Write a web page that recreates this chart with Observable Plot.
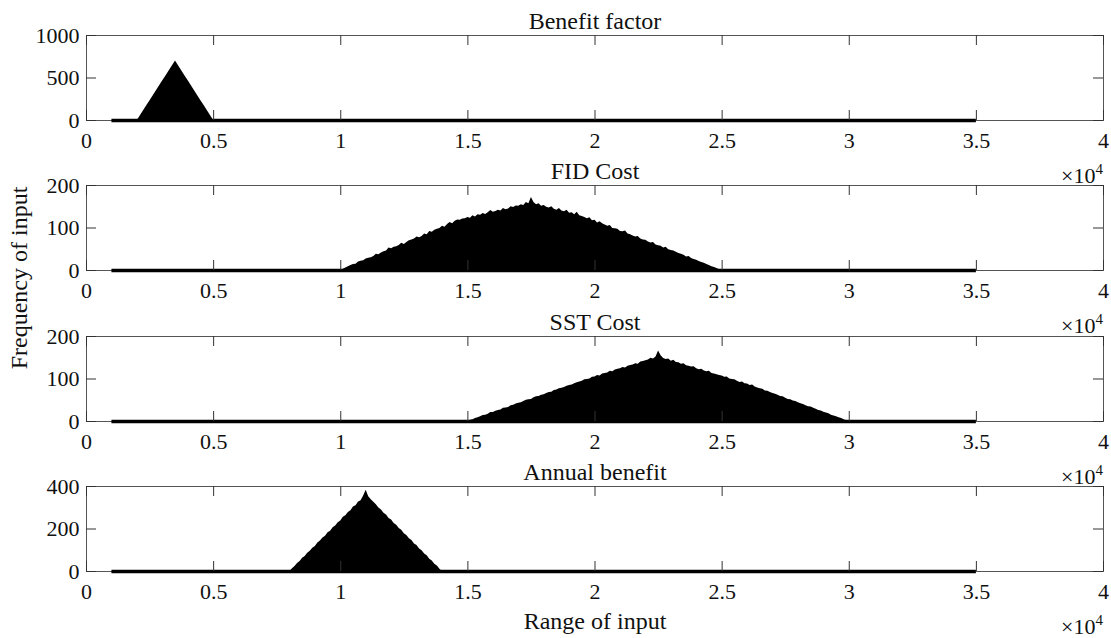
<!DOCTYPE html>
<html>
<head>
<meta charset="utf-8">
<script src="https://cdn.jsdelivr.net/npm/d3@7"></script>
<script src="https://cdn.jsdelivr.net/npm/@observablehq/plot@0.6"></script>
<style>
  html, body { margin: 0; padding: 0; background: #fff; }
  #chart { position: relative; width: 1111px; height: 638px; overflow: hidden;
           font-family: "Liberation Serif", "Times New Roman", serif; }
  #chart svg { position: absolute; left: 0; }
</style>
</head>
<body>
<div id="chart"></div>
<script>
// Panel titles and shared axis text
const titles = ["Benefit factor", "FID Cost", "SST Cost", "Annual benefit"];
const yLabel = "Frequency of input";
const xLabel = "Range of input";

// Tick values
const xTicks = [0, 5000, 10000, 15000, 20000, 25000, 30000, 35000, 40000];
const xDomain = [0, 40000];
const yTicksBenefit = [0, 500, 1000];
const yTicksFid = [0, 100, 200];
const yTicksSst = [0, 100, 200];
const yTicksAnnual = [0, 200, 400];

// Every histogram covers this input range; bins outside the peak hold zero counts
const binRange = [1000, 35000];

// Histogram counts (first bin, bin step, counts)
const benefitStart = 2000, benefitStep = 100;
const benefitCounts = [0, 47, 93, 140, 187, 233, 280, 327, 373, 420, 467, 513, 560, 607, 653, 700,
  653, 607, 560, 513, 467, 420, 373, 327, 280, 233, 187, 140, 93, 47, 0];

const fidStart = 10000, fidStep = 100;
const fidCounts = [
  0, 3, 6, 9, 12, 14, 15, 20, 22, 23,
  27, 29, 30, 33, 38, 37, 41, 44, 46, 53,
  51, 55, 56, 59, 64, 61, 66, 70, 72, 74,
  79, 77, 80, 86, 84, 92, 90, 95, 97, 99,
  104, 102, 108, 113, 110, 116, 119, 118, 121, 122,
  125, 123, 129, 126, 131, 130, 134, 132, 136, 141,
  137, 139, 142, 140, 146, 143, 145, 150, 148, 152,
  151, 155, 153, 160, 157, 172, 160, 155, 157, 151,
  153, 149, 147, 150, 144, 142, 146, 140, 138, 142,
  135, 136, 131, 137, 129, 127, 125, 122, 124, 117,
  118, 112, 115, 110, 107, 104, 106, 99, 98, 97,
  92, 91, 93, 86, 84, 81, 79, 80, 74, 72,
  71, 67, 65, 66, 60, 58, 57, 53, 55, 49,
  47, 46, 43, 40, 38, 36, 32, 33, 28, 26,
  24, 21, 19, 17, 14, 12, 9, 7, 5, 2,
  0];

const sstStart = 15000, sstStep = 100;
const sstCounts = [
  0, 3, 4, 7, 9, 11, 14, 15, 17, 21,
  21, 24, 26, 27, 31, 32, 33, 37, 38, 41,
  43, 44, 47, 50, 51, 52, 56, 58, 59, 62,
  63, 66, 68, 69, 73, 74, 77, 78, 80, 83,
  85, 86, 89, 91, 93, 95, 98, 99, 100, 104,
  105, 108, 107, 112, 113, 114, 118, 117, 121, 123,
  124, 127, 126, 130, 132, 133, 136, 135, 140, 141,
  143, 145, 149, 147, 152, 166, 155, 148, 146, 147,
  142, 144, 139, 138, 135, 136, 131, 130, 128, 129,
  124, 122, 123, 119, 117, 118, 113, 112, 110, 108,
  107, 104, 105, 100, 99, 98, 95, 92, 93, 89,
  88, 85, 86, 81, 79, 77, 76, 72, 71, 68,
  66, 64, 62, 59, 58, 55, 52, 51, 48, 47,
  44, 42, 40, 37, 35, 34, 31, 29, 26, 25,
  22, 20, 18, 15, 13, 11, 9, 7, 4, 2,
  0];

const annualStart = 8000, annualStep = 100;
const annualCounts = [
  0, 13, 23, 38, 47, 62, 71, 86, 95, 110,
  118, 134, 143, 158, 166, 182, 190, 206, 214, 230,
  238, 255, 262, 278, 286, 303, 310, 327, 333, 355,
  382,
  352, 338, 326, 314, 299, 290, 274, 266, 250, 242,
  226, 218, 202, 194, 178, 170, 154, 146, 130, 122,
  106, 98, 82, 74, 58, 50, 34, 26, 11, 0];

const toPoints = (start, step, counts) => counts.map((c, i) => ({x: start + i * step, y: c}));

const panels = [
  {title: titles[0], points: toPoints(benefitStart, benefitStep, benefitCounts), yTicks: yTicksBenefit},
  {title: titles[1], points: toPoints(fidStart, fidStep, fidCounts), yTicks: yTicksFid},
  {title: titles[2], points: toPoints(sstStart, sstStep, sstCounts), yTicks: yTicksSst},
  {title: titles[3], points: toPoints(annualStart, annualStep, annualCounts), yTicks: yTicksAnnual}
];

const W = 1111;
const mL = 86, mR = 8, mT = 35, frameH = 85, tickLen = 10;
const tops = [0, 150, 301, 451];
const heights = [150, 150, 150, 187];
const frameW = W - mL - mR;
const ink = "#111";
const serif = '"Liberation Serif", "Times New Roman", serif';

const chart = document.getElementById("chart");

panels.forEach((p, k) => {
  const H = heights[k];
  const marks = [
    Plot.areaY(p.points, {x: "x", y: "y", fill: "#000", curve: "linear"}),
    Plot.frame({stroke: "#555"}),
    Plot.ruleY([0], {x1: binRange[0], x2: binRange[1], stroke: "#000", strokeWidth: 3.5}),
    Plot.tickX(xTicks, {x: d => d, insetTop: frameH - tickLen, stroke: "#333"}),
    Plot.tickX(xTicks, {x: d => d, insetBottom: frameH - tickLen, stroke: "#333"}),
    Plot.tickY(p.yTicks, {y: d => d, insetRight: frameW - tickLen, stroke: "#333"}),
    Plot.tickY(p.yTicks, {y: d => d, insetLeft: frameW - tickLen, stroke: "#333"}),
    Plot.axisX(xTicks, {tickSize: 0, tickPadding: 12, tickFormat: d => String(d / 1e4),
      label: null, fill: ink, fontSize: 22}),
    Plot.axisY(p.yTicks, {tickSize: 0, tickPadding: 7, tickFormat: d => String(d),
      label: null, fill: ink, fontSize: 22}),
    Plot.text([p.title], {text: d => d, frameAnchor: "top", lineAnchor: "bottom", dy: -6.5,
      fontSize: 24, fill: ink})
  ];
  if (k === 3) {
    marks.push(Plot.text([xLabel], {text: d => d, frameAnchor: "bottom", lineAnchor: "bottom",
      dy: 57, fontSize: 24, fill: ink}));
  }
  const svg = Plot.plot({
    width: W,
    height: H,
    marginLeft: mL,
    marginRight: mR,
    marginTop: mT,
    marginBottom: H - mT - frameH,
    style: {fontFamily: serif, fontSize: "22px", color: ink,
            background: "transparent", overflow: "visible"},
    x: {domain: xDomain, axis: null},
    y: {domain: [0, d3.max(p.yTicks)], axis: null},
    marks
  });
  svg.style.top = tops[k] + "px";
  const sel = d3.select(svg);
  // exponent note for the x axis, below the tick labels at the right edge
  const ex = sel.append("text")
    .attr("x", W - mR)
    .attr("y", mT + frameH + 63)
    .attr("text-anchor", "end")
    .attr("fill", ink)
    .style("font-family", serif)
    .style("font-size", "22px");
  ex.append("tspan").text("×10");
  ex.append("tspan").attr("dy", -9).style("font-size", "15px").text("4");
  if (k === 1) {
    sel.append("text")
      .attr("transform", `translate(27,${278 - tops[k]}) rotate(-90)`)
      .attr("text-anchor", "middle")
      .attr("fill", ink)
      .style("font-family", serif)
      .style("font-size", "24px")
      .text(yLabel);
  }
  chart.appendChild(svg);
});
</script>
</body>
</html>
